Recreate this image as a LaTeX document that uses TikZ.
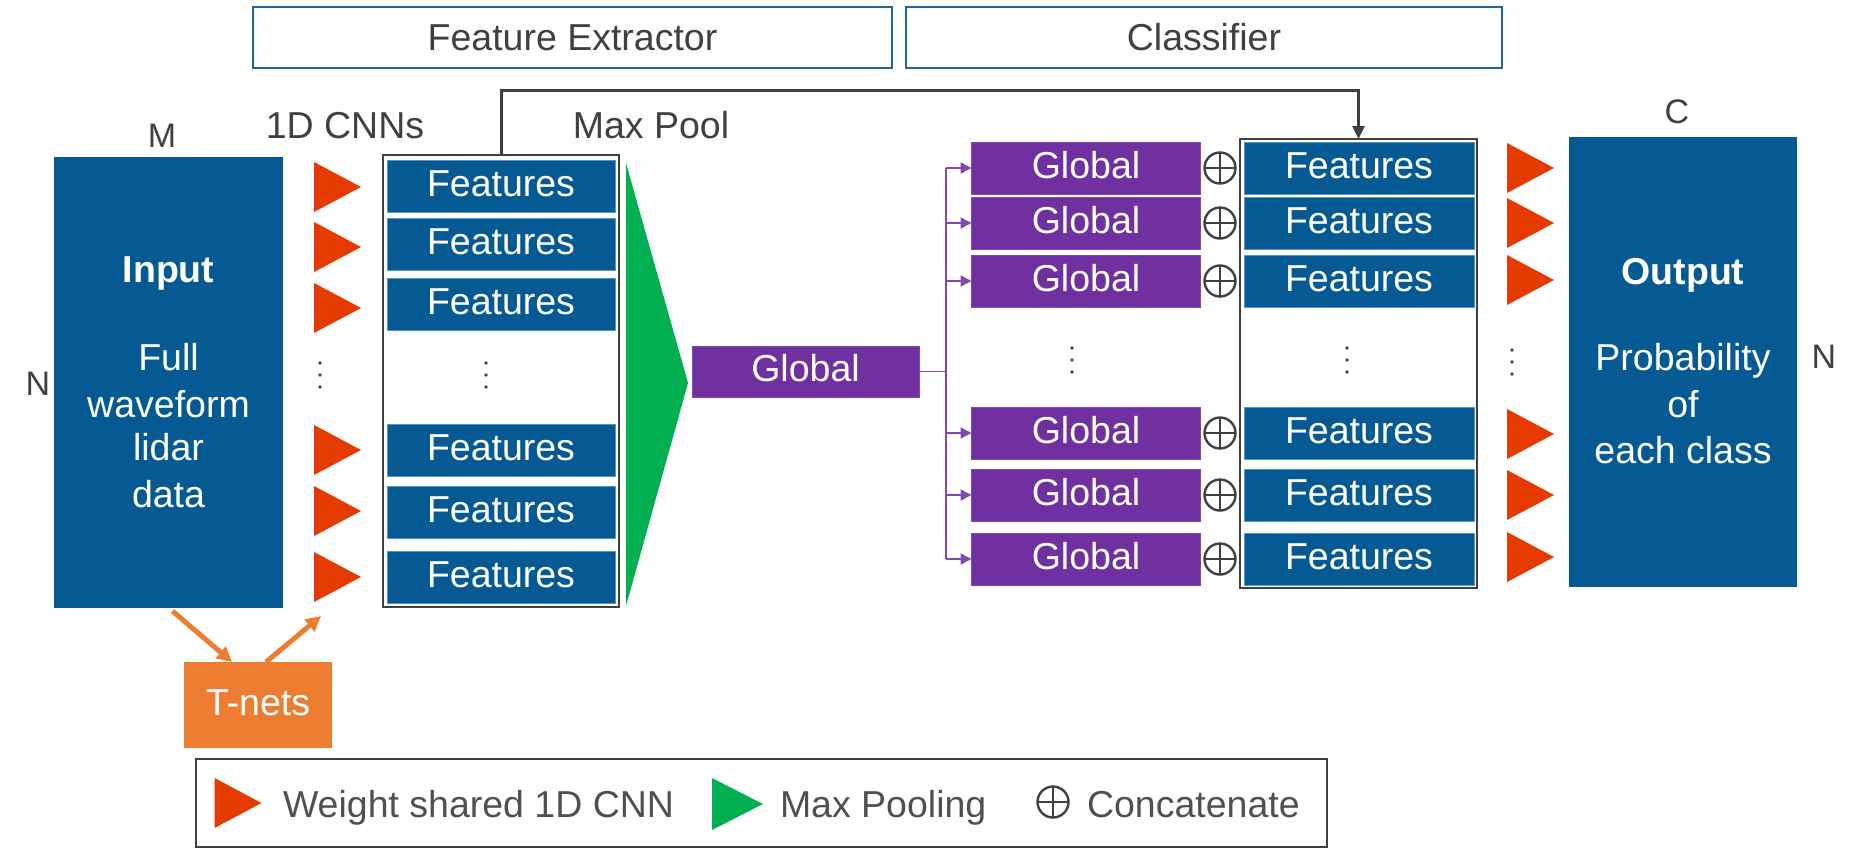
\documentclass[tikz,border=0pt]{standalone}
\usepackage{fontspec}
\setmainfont{Liberation Sans}
\usetikzlibrary{arrows.meta}
\definecolor{bluebox}{HTML}{055A93}
\definecolor{bluelight}{HTML}{5A93C4}
\definecolor{redtri}{HTML}{E53A00}
\definecolor{greentri}{HTML}{00B050}
\definecolor{purp}{HTML}{7030A0}
\definecolor{purpline}{HTML}{8048B0}
\definecolor{orng}{HTML}{ED7D31}
\definecolor{dgray}{HTML}{404040}
\definecolor{lgray}{HTML}{505050}
\definecolor{hdrblue}{HTML}{1F65A0}
\begin{document}
\begin{tikzpicture}[x=1pt,y=-1pt,
  every node/.style={font=\fontsize{37.5}{46}\selectfont, inner sep=0pt, outer sep=0pt},
  hdr/.style={draw=hdrblue, line width=2pt, text=dgray, minimum height=61pt, text height=27pt, text depth=2pt},
  lbl/.style={text=dgray},
  sidelbl/.style={text=dgray, font=\fontsize{34}{40}\selectfont},
  wlbl/.style={text=white},
  feat/.style={fill=bluebox, draw=bluelight, line width=1pt, text=white, minimum width=228pt, minimum height=52pt, text height=27pt, text depth=7pt},
  glob/.style={fill=purp, draw=purpline, line width=1pt, text=white, minimum width=229pt, minimum height=52pt, text height=27pt, text depth=7pt},
  stack/.style={draw=dgray, line width=2.2pt},
  bigbox/.style={fill=bluebox},
  cplus/.style={circle, draw=dgray, line width=2.4pt, minimum size=31pt,
     path picture={\draw[dgray, line width=2.4pt] (path picture bounding box.north) -- (path picture bounding box.south) (path picture bounding box.west) -- (path picture bounding box.east);}},
  pline/.style={draw=purpline, line width=1.6pt},
  parrow/.style={pline, -{Triangle[length=11pt,width=11pt]}},
  conn/.style={draw=dgray, line width=3pt, -{Triangle[length=13pt,width=12pt]}},
  oarrow/.style={draw=orng, line width=5pt, -{Triangle[length=15pt,width=15pt]}},
  rtri/.pic={\fill[redtri] (-23.5,-25) -- (23.5,0) -- (-23.5,25) -- cycle;},
  gtri/.pic={\fill[greentri] (-25.5,-26) -- (25.5,0) -- (-25.5,26) -- cycle;},
  vdots/.pic={\fill[dgray] (0,-12) circle (1.8pt) (0,0) circle (1.8pt) (0,12) circle (1.8pt);}
]
\useasboundingbox (0,0) rectangle (1860,849);

% headers
\node[hdr, minimum width=639pt] (hfe) at (572.5,37.5) {Feature Extractor};
\node[hdr, minimum width=596pt] (hcl) at (1204,37.5) {Classifier};

% labels
\node[sidelbl, anchor=base] (lM) at (162,147) {M};
\node[sidelbl, anchor=base] (lN1) at (38,395) {N};
\node[sidelbl, anchor=base] (lC) at (1677,123) {C};
\node[sidelbl, anchor=base] (lN2) at (1824,368) {N};
\node[lbl, anchor=base] (l1d) at (345,138) {1D CNNs};
\node[lbl, anchor=base] (lmp) at (651,138) {Max Pool};

% input box
\node[bigbox, minimum width=229pt, minimum height=451pt] (in) at (168.5,382.5) {};
\node[wlbl, anchor=base] (inT) at (168.5,282) {\bfseries Input};
\foreach \t/\y [count=\i] in {Full/370, waveform/417, lidar/460, data/507}
  \node[wlbl, anchor=base] (inl\i) at (168.5,\y) {\t};

% left triangles
\foreach \y in {187,247,308,450,511,577} \pic at (337.5,\y) {rtri};
\pic at (320,375) {vdots};

% left stack
\node[stack, minimum width=236pt, minimum height=452pt] (lf) at (501,381) {};
\foreach \y [count=\i] in {186,244,304,450,512,577}
  \node[feat] (fl\i) at (501,\y) {Features};
\pic at (486,375) {vdots};

% max pooling triangle
\fill[greentri] (626,163) -- (688,383) -- (626,606) -- cycle;

% global
\node[glob, minimum width=227pt, minimum height=51pt] (gc) at (805.5,371.5) {Global};

% right stack
\node[stack, minimum width=237pt, minimum height=449pt] (rf) at (1358.5,363.5) {};
\foreach \y [count=\i] in {168,223,281,433,495,559} {
  \node[glob] (gr\i) at (1086,\y) {Global};
  \node[feat, minimum width=230pt] (fr\i) at (1359,\y) {Features};
  \node[cplus] (cp\i) at (1220,\y) {};
}
\pic at (1072,360) {vdots};
\pic at (1347,360) {vdots};

% purple bus
\coordinate (bus) at (946,371.5);
\draw[pline] (gc.east) -- (bus);
\draw[pline] (bus |- gr1.west) -- (bus |- gr6.west);
\foreach \i in {1,...,6} \draw[parrow] (bus |- gr\i.west) -- (gr\i.west);

% right triangles
\foreach \y in {168,223,280,434,495,557} \pic at (1530.5,\y) {rtri};
\pic at (1512,362) {vdots};

% output box
\node[bigbox, minimum width=228pt, minimum height=450pt] (out) at (1683,362) {};
\node[wlbl, anchor=base] (outT) at (1683,284) {\bfseries Output};
\foreach \t/\y [count=\i] in {Probability/370, of/417, each class/463}
  \node[wlbl, anchor=base] (outl\i) at (1683,\y) {\t};

% skip connector
\draw[conn] (lf.north) -- (lf.north |- 0,90) -| (rf.north);

% T-nets
\node[fill=orng, text=white, minimum width=148pt, minimum height=86pt, text height=27pt, text depth=7pt] (tn) at (258,705) {T-nets};
\coordinate (tnout) at (321,616);
\draw[oarrow] ([xshift=4pt,yshift=-3pt]in.south) -- ([xshift=-26pt]tn.north);
\draw[oarrow] ([xshift=8pt]tn.north) -- (tnout);

% legend
\node[draw=dgray, line width=2pt, minimum width=1131pt, minimum height=88pt] (leg) at (761.5,803) {};
\pic at (238,803) {rtri};
\node[text=lgray, anchor=base west] (legt1) at (283,817) {Weight shared 1D CNN};
\pic at (737.5,804) {gtri};
\node[text=lgray, anchor=base west] (legt2) at (780,817) {Max Pooling};
\node[cplus, minimum size=31pt] (legc) at (1053,802) {};
\node[text=lgray, anchor=base west] (legt3) at (1087,817) {Concatenate};
\end{tikzpicture}
\end{document}
